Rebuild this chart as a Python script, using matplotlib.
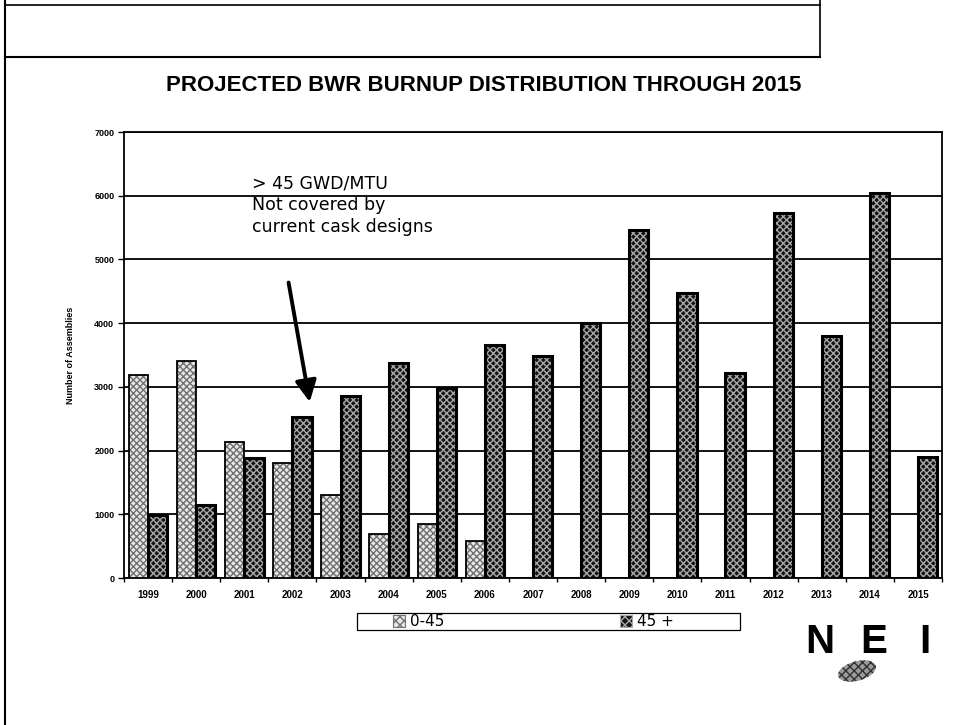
import matplotlib
matplotlib.use("Agg")
from matplotlib import pyplot as plt
from matplotlib.patches import Patch, Ellipse, Rectangle
from matplotlib.lines import Line2D
import numpy as np

years = ["1999", "2000", "2001", "2002", "2003", "2004", "2005", "2006", "2007",
         "2008", "2009", "2010", "2011", "2012", "2013", "2014", "2015"]
low_burnup = [3180, 3400, 2130, 1810, 1300, 690, 840, 585, 0, 0, 0, 0, 0, 0, 0, 0, 0]
high_burnup = [990, 1140, 1890, 2530, 2850, 3370, 2980, 3660, 3480, 4010,
               5460, 4480, 3210, 5730, 3800, 6040, 1900]
series_names = ["0-45", "45 +"]

fig = plt.figure(figsize=(9.58, 7.25), dpi=100)
ax = fig.add_axes([124 / 958, 147 / 725, 818 / 958, 446 / 725])

x = np.arange(len(years))
w = 0.4

# light stippled bars
ax.bar(x - w / 2, low_burnup, w, color="#e8e8e8", edgecolor="#707070",
       hatch="xxxxx", linewidth=0, zorder=3)
ax.bar(x - w / 2, low_burnup, w, fill=False, edgecolor="black", linewidth=1.3, zorder=4)
# dark stippled bars
ax.bar(x + w / 2, high_burnup, w, color="#141414", edgecolor="#a8a8a8",
       hatch="xxxxx", linewidth=0, zorder=3)
ax.bar(x + w / 2, high_burnup, w, fill=False, edgecolor="black", linewidth=2.2, zorder=4)

ax.set_xlim(-0.5, len(years) - 0.5)
ax.set_ylim(0, 7000)
ax.set_yticks(range(0, 7001, 1000))
ax.set_yticklabels([str(v) for v in range(0, 7001, 1000)], fontsize=6.5, fontweight="bold",
                   family="Liberation Sans")
ax.set_xticks(x)
ax.set_xticklabels(years, fontsize=7, fontweight="bold", family="Liberation Sans")
ax.set_xticks(np.arange(-0.5, len(years), 1), minor=True)
ax.tick_params(axis="x", which="major", length=0, pad=9)
ax.tick_params(axis="x", which="minor", length=3, width=1)
ax.tick_params(axis="y", length=4, width=1, pad=3)
ax.yaxis.grid(True, color="black", linewidth=1.3, zorder=1)
ax.set_axisbelow(True)
for s in ax.spines.values():
    s.set_linewidth(1.3)
ax.set_ylabel("Number of Assemblies", fontsize=6.5, fontweight="bold",
              family="Liberation Sans", labelpad=14)

ax.text(2.16, 6340, "> 45 GWD/MTU\nNot covered by\ncurrent cask designs",
        fontsize=12.5, va="top", ha="left", linespacing=1.3, zorder=6)
ax.annotate("", xy=(3.37, 2720), xytext=(2.91, 4680),
            arrowprops=dict(arrowstyle="-|>", lw=2.8, color="black", mutation_scale=32),
            zorder=6)

fig.text(0.505, 0.882, "PROJECTED BWR BURNUP DISTRIBUTION THROUGH 2015",
         ha="center", va="center", fontsize=16, fontweight="bold",
         family="Liberation Sans")

# legend: frame drawn separately, entries placed inside
fig.add_artist(Rectangle((357 / 958, 1 - 630 / 725), 383 / 958, 17 / 725,
                         transform=fig.transFigure, fill=False, edgecolor="black", lw=0.9))
handles = [Patch(facecolor="#e8e8e8", edgecolor="#707070", hatch="xxxx", linewidth=0.8),
           Patch(facecolor="#141414", edgecolor="#a8a8a8", hatch="xxxx", linewidth=0.8)]
leg = fig.legend(handles, series_names, loc="center left", ncol=2,
                 bbox_to_anchor=(393 / 958, 1 - 621.5 / 725),
                 fontsize=11, frameon=False, handlelength=0.8, handleheight=0.8,
                 handletextpad=0.3, borderpad=0, borderaxespad=0, columnspacing=11.5)

# slide frame lines
fig.add_artist(Line2D([5 / 958, 820 / 958], [1 - 5 / 725, 1 - 5 / 725], color="black", lw=1.2))
fig.add_artist(Line2D([5 / 958, 820 / 958], [1 - 57 / 725, 1 - 57 / 725], color="black", lw=1.5))
fig.add_artist(Line2D([820 / 958, 820 / 958], [1, 1 - 57 / 725], color="black", lw=1.2))
fig.add_artist(Line2D([5 / 958, 5 / 958], [1, 0], color="black", lw=1.5))

# NEI logo
for letter, lx in [("N", 820), ("E", 874), ("I", 925)]:
    fig.text(lx / 958, 1 - 642 / 725, letter, ha="center", va="center", fontsize=29,
             fontweight="bold", family="Liberation Sans")
fig.add_artist(Ellipse((857 / 958, 1 - 671 / 725), 0.042, 0.026, angle=25,
                       facecolor="#9a9a9a", edgecolor="#303030", hatch="xxxx", lw=0))

fig.savefig("out.png", dpi=100)
plt.close(fig)
